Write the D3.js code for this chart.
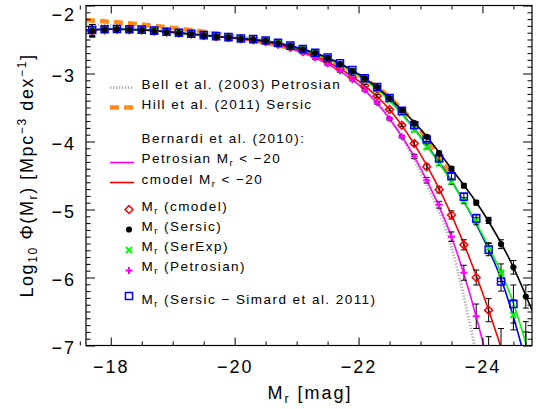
<!DOCTYPE html>
<html>
<head>
<meta charset="utf-8">
<script src="https://cdn.jsdelivr.net/npm/d3@7"></script>
<style>
  body { margin: 0; background: #fff; }
  svg { display: block; font-family: "Liberation Sans", Arial, sans-serif; }
</style>
</head>
<body>
<div id="chart"></div>
<script>
// Magnitude bins of the measured luminosity function
const mags = [-17.7, -17.9, -18.1, -18.3, -18.5, -18.7, -18.9, -19.1, -19.3, -19.5, -19.7, -19.9,
              -20.1, -20.3, -20.5, -20.7, -20.9, -21.1, -21.3, -21.5, -21.7, -21.9, -22.1, -22.3,
              -22.5, -22.7, -22.9, -23.1, -23.3, -23.5, -23.7, -23.9, -24.1, -24.3, -24.5, -24.7];

// log10 phi for each magnitude definition (null = no point)
const sersicPhi = [-2.37, -2.355, -2.35, -2.355, -2.36, -2.375, -2.39, -2.405, -2.42, -2.44, -2.455, -2.47,
                   -2.49, -2.50, -2.52, -2.555, -2.595, -2.645, -2.70, -2.77, -2.86, -2.96, -3.07, -3.20,
                   -3.36, -3.54, -3.73, -3.93, -4.17, -4.40, -4.65, -4.90, -5.16, -5.51, -5.85, -6.28];
const sersicErr = [0.09, 0.03, 0.02, 0.02, 0.02, 0.02, 0.02, 0.02, 0.02, 0.02, 0.02, 0.02,
                   0.02, 0.02, 0.02, 0.02, 0.02, 0.02, 0.02, 0.02, 0.02, 0.02, 0.02, 0.02,
                   0.02, 0.02, 0.025, 0.025, 0.03, 0.03, 0.03, 0.035, 0.045, 0.065, 0.10, 0.17];

const simardPhi = [-2.36, -2.35, -2.345, -2.35, -2.355, -2.37, -2.385, -2.40, -2.415, -2.435, -2.45, -2.465,
                   -2.485, -2.495, -2.515, -2.55, -2.59, -2.64, -2.695, -2.765, -2.85, -2.95, -3.07, -3.20,
                   -3.36, -3.55, -3.76, -3.97, -4.25, -4.51, -4.81, -5.13, -5.59, -6.06, -6.39, -7.25];
const simardErr = [0.08, 0.03, 0.02, 0.02, 0.02, 0.02, 0.02, 0.02, 0.02, 0.02, 0.02, 0.02,
                   0.02, 0.02, 0.02, 0.02, 0.02, 0.02, 0.02, 0.02, 0.02, 0.02, 0.02, 0.02,
                   0.02, 0.02, 0.03, 0.03, 0.035, 0.04, 0.045, 0.06, 0.09, 0.14, 0.28, 0.45];

const serexpPhi = [-2.37, -2.355, -2.35, -2.355, -2.36, -2.375, -2.39, -2.405, -2.42, -2.44, -2.455, -2.47,
                   -2.49, -2.50, -2.52, -2.555, -2.595, -2.645, -2.70, -2.775, -2.87, -2.97, -3.09, -3.23,
                   -3.39, -3.585, -3.83, -4.08, -4.32, -4.59, -4.87, -5.17, -5.57, -5.93, -6.55, -7.10];
const serexpErr = [0.09, 0.03, 0.02, 0.02, 0.02, 0.02, 0.02, 0.02, 0.02, 0.02, 0.02, 0.02,
                   0.02, 0.02, 0.02, 0.02, 0.02, 0.02, 0.02, 0.02, 0.02, 0.02, 0.02, 0.02,
                   0.02, 0.02, 0.025, 0.03, 0.035, 0.04, 0.045, 0.055, 0.08, 0.13, 0.22, 0.45];

const cmodelPhi = [-2.37, -2.355, -2.35, -2.355, -2.36, -2.375, -2.39, -2.405, -2.42, -2.44, -2.455, -2.47,
                   -2.49, -2.505, -2.53, -2.565, -2.615, -2.675, -2.745, -2.83, -2.93, -3.05, -3.18, -3.33,
                   -3.53, -3.76, -4.03, -4.37, -4.71, -5.08, -5.52, -6.00, -6.48, -7.20, null, null];
const cmodelErr = [0.09, 0.03, 0.02, 0.02, 0.02, 0.02, 0.02, 0.02, 0.02, 0.02, 0.02, 0.02,
                   0.02, 0.02, 0.02, 0.02, 0.02, 0.02, 0.02, 0.02, 0.02, 0.02, 0.02, 0.02,
                   0.02, 0.02, 0.03, 0.035, 0.045, 0.06, 0.075, 0.11, 0.17, 0.45, null, null];

const petroPhi = [-2.37, -2.355, -2.35, -2.355, -2.36, -2.375, -2.39, -2.405, -2.42, -2.44, -2.455, -2.47,
                  -2.495, -2.51, -2.54, -2.58, -2.63, -2.69, -2.77, -2.86, -2.96, -3.09, -3.24, -3.43,
                  -3.665, -3.93, -4.22, -4.57, -4.93, -5.40, -5.93, -6.57, -7.25, null, null, null];
const petroErr = [0.09, 0.03, 0.02, 0.02, 0.02, 0.02, 0.02, 0.02, 0.02, 0.02, 0.02, 0.02,
                  0.02, 0.02, 0.02, 0.02, 0.02, 0.02, 0.02, 0.02, 0.02, 0.02, 0.02, 0.02,
                  0.02, 0.02, 0.03, 0.04, 0.05, 0.07, 0.11, 0.18, 0.38, null, null, null];

// Fitted curves, [M_r, log10 phi]
const sersicFit = [[-17.6, -2.37], [-18.0, -2.35], [-18.5, -2.36], [-19.0, -2.395], [-19.5, -2.44],
                   [-20.0, -2.48], [-20.5, -2.525], [-21.0, -2.62], [-21.5, -2.77], [-22.0, -3.01],
                   [-22.5, -3.36], [-23.0, -3.82], [-23.5, -4.40], [-24.0, -5.03], [-24.5, -5.85], [-24.8, -6.48]];
const serexpFit = [[-17.6, -2.37], [-18.0, -2.35], [-18.5, -2.36], [-19.0, -2.395], [-19.5, -2.44],
                   [-20.0, -2.48], [-20.5, -2.525], [-21.0, -2.625], [-21.5, -2.78], [-22.0, -3.03],
                   [-22.5, -3.40], [-23.0, -3.94], [-23.5, -4.59], [-24.0, -5.37], [-24.5, -6.38],
                   [-24.71, -7.0], [-24.8, -7.3]];
const simardFit = [[-17.6, -2.36], [-18.0, -2.345], [-18.5, -2.355], [-19.0, -2.39], [-19.5, -2.435],
                   [-20.0, -2.475], [-20.5, -2.52], [-21.0, -2.615], [-21.5, -2.77], [-22.0, -3.02],
                   [-22.5, -3.39], [-23.0, -3.93], [-23.5, -4.58], [-24.0, -5.40], [-24.3, -6.02],
                   [-24.63, -7.0], [-24.8, -7.6]];
const cmodelFit = [[-20.0, -2.48], [-20.5, -2.535], [-21.0, -2.645], [-21.5, -2.83], [-22.0, -3.11],
                   [-22.5, -3.53], [-23.0, -4.19], [-23.5, -5.08], [-24.0, -6.22], [-24.29, -7.0], [-24.5, -7.6]];
const petroFit = [[-20.0, -2.48], [-20.5, -2.54], [-21.0, -2.66], [-21.5, -2.86], [-22.0, -3.165],
                  [-22.5, -3.665], [-23.0, -4.39], [-23.5, -5.40], [-24.02, -7.0], [-24.2, -7.7]];
const bellFit = [[-17.6, -2.28], [-18.0, -2.295], [-18.5, -2.315], [-19.0, -2.345], [-19.5, -2.385],
                 [-20.0, -2.44], [-20.5, -2.515], [-21.0, -2.63], [-21.5, -2.81], [-22.0, -3.12],
                 [-22.5, -3.65], [-23.0, -4.45], [-23.5, -5.55], [-23.87, -7.0], [-24.0, -7.6]];
const hillFit = [[-17.6, -2.215], [-18.0, -2.24], [-18.5, -2.28], [-19.0, -2.33], [-19.5, -2.385],
                 [-20.0, -2.465], [-20.5, -2.55], [-21.0, -2.645], [-21.5, -2.79], [-22.0, -3.02],
                 [-22.5, -3.35], [-23.0, -3.84], [-23.5, -4.50]];

// Axis ticks
const xMajorTicks = [-18, -20, -22, -24];
const yMajorTicks = [-7, -6, -5, -4, -3, -2];

const W = 536, H = 409;
const plot = { left: 86, right: 532, top: 5.5, bottom: 345.5 };

const svg = d3.select("#chart").append("svg")
    .attr("width", W)
    .attr("height", H);

const x = d3.scaleLinear().domain([-17.6, -24.8]).range([plot.left, plot.right]);
const y = d3.scaleLinear().domain([-7, -2]).range([plot.bottom, plot.top]);

svg.append("clipPath").attr("id", "clip")
  .append("rect")
    .attr("x", plot.left).attr("y", plot.top)
    .attr("width", plot.right - plot.left).attr("height", plot.bottom - plot.top);

const g = svg.append("g").attr("clip-path", "url(#clip)");

const line = d3.line()
    .x(d => x(d[0]))
    .y(d => y(d[1]))
    .curve(d3.curveMonotoneX);

function drawFit(data, color, width, dash) {
  g.append("path")
      .datum(data)
      .attr("d", line)
      .attr("fill", "none")
      .attr("stroke", color)
      .attr("stroke-width", width)
      .attr("stroke-dasharray", dash || null);
}

drawFit(bellFit, "#b4b4b4", 3, "1.3,1.7");
drawFit(hillFit, "#ff8c1a", 4.5, "9,5");
drawFit(petroFit, "#ff00ff", 1.6);
drawFit(cmodelFit, "#ff0000", 1.6);
drawFit(simardFit, "#0000ff", 1.6);
drawFit(serexpFit, "#00ff00", 1.6);
drawFit(sersicFit, "#000000", 1.6);

// points + error bars
const series = [
  { phi: cmodelPhi, err: cmodelErr, symbol: d3.symbolDiamond2, size: 40, fill: "none", stroke: "#ff0000", sw: 1.5 },
  { phi: petroPhi, err: petroErr, symbol: d3.symbolPlus, size: 18, fill: "none", stroke: "#ff00ff", sw: 2 },
  { phi: serexpPhi, err: serexpErr, symbol: d3.symbolX, size: 26, fill: "none", stroke: "#00ff00", sw: 2 },
  { phi: simardPhi, err: simardErr, symbol: d3.symbolSquare2, size: 64, fill: "none", stroke: "#0000ff", sw: 1.5 },
  { phi: sersicPhi, err: sersicErr, symbol: d3.symbolCircle, size: 30, fill: "#000", stroke: "none", sw: 0 }
];

const toPoints = s => mags.map((m, i) => ({ m: m, v: s.phi[i], e: s.err[i] })).filter(d => d.v !== null);

series.forEach(s => {
  const pts = toPoints(s);
  const eb = g.append("g").attr("stroke", "#000").attr("stroke-width", 1);
  eb.selectAll("line.bar").data(pts).enter().append("line")
      .attr("x1", d => x(d.m)).attr("x2", d => x(d.m))
      .attr("y1", d => y(d.v - d.e)).attr("y2", d => y(d.v + d.e));
  eb.selectAll("line.capTop").data(pts).enter().append("line")
      .attr("x1", d => x(d.m) - 3).attr("x2", d => x(d.m) + 3)
      .attr("y1", d => y(d.v + d.e)).attr("y2", d => y(d.v + d.e));
  eb.selectAll("line.capBot").data(pts).enter().append("line")
      .attr("x1", d => x(d.m) - 3).attr("x2", d => x(d.m) + 3)
      .attr("y1", d => y(d.v - d.e)).attr("y2", d => y(d.v - d.e));
});

series.forEach(s => {
  g.append("g").selectAll("path").data(toPoints(s)).enter().append("path")
      .attr("transform", d => "translate(" + x(d.m) + "," + y(d.v) + ")")
      .attr("d", d3.symbol().type(s.symbol).size(s.size))
      .attr("fill", s.fill)
      .attr("stroke", s.stroke)
      .attr("stroke-width", s.sw);
});

// axes: ticks point inward on all four sides
const xMinor = d3.range(-17.5, -24.81, -0.5).filter(v => !xMajorTicks.includes(v));
const yMinor = d3.range(-6.9, -2.0, 0.1).map(v => +v.toFixed(1)).filter(v => !yMajorTicks.includes(v));
const fmt = v => "\u2212" + Math.abs(v);

function styleAxis(sel) {
  sel.select(".domain").remove();
  sel.selectAll("line").attr("stroke", "#000").attr("stroke-width", 1);
  sel.selectAll("text").attr("fill", "#000").style("font-size", "18px").style("letter-spacing", "2px");
}

svg.append("g").attr("transform", "translate(0," + plot.bottom + ")")
    .call(d3.axisBottom(x).tickValues(xMajorTicks).tickSize(-8).tickPadding(15).tickFormat(fmt))
    .call(styleAxis);
svg.append("g").attr("transform", "translate(0," + plot.bottom + ")")
    .call(d3.axisBottom(x).tickValues(xMinor).tickSize(-4).tickFormat(""))
    .call(styleAxis);
svg.append("g").attr("transform", "translate(0," + plot.top + ")")
    .call(d3.axisTop(x).tickValues(xMajorTicks).tickSize(-8).tickFormat(""))
    .call(styleAxis);
svg.append("g").attr("transform", "translate(0," + plot.top + ")")
    .call(d3.axisTop(x).tickValues(xMinor).tickSize(-4).tickFormat(""))
    .call(styleAxis);

const yAxisG = svg.append("g").attr("transform", "translate(" + plot.left + ",0)")
    .call(d3.axisLeft(y).tickValues(yMajorTicks).tickSize(-9).tickPadding(10).tickFormat(fmt))
    .call(styleAxis);
yAxisG.selectAll("text").attr("dy", d => d === -2 ? "0.82em" : "0.46em");
svg.append("g").attr("transform", "translate(" + plot.left + ",0)")
    .call(d3.axisLeft(y).tickValues(yMinor).tickSize(-4.5).tickFormat(""))
    .call(styleAxis);
svg.append("g").attr("transform", "translate(" + plot.right + ",0)")
    .call(d3.axisRight(y).tickValues(yMajorTicks).tickSize(-9).tickFormat(""))
    .call(styleAxis);
svg.append("g").attr("transform", "translate(" + plot.right + ",0)")
    .call(d3.axisRight(y).tickValues(yMinor).tickSize(-4.5).tickFormat(""))
    .call(styleAxis);

svg.append("rect")
    .attr("x", plot.left).attr("y", plot.top)
    .attr("width", plot.right - plot.left).attr("height", plot.bottom - plot.top)
    .attr("fill", "none").attr("stroke", "#000").attr("stroke-width", 1.2);

// axis titles
const xt = svg.append("text")
    .attr("x", 310).attr("y", 399)
    .attr("text-anchor", "middle")
    .style("font-size", "18px").style("letter-spacing", "2px");
xt.append("tspan").text("M");
xt.append("tspan").attr("dy", 4).style("font-size", "12px").text("r");
xt.append("tspan").attr("dy", -4).text(" [mag]");

const yt = svg.append("text")
    .attr("transform", "translate(33," + ((plot.top + plot.bottom) / 2) + ") rotate(-90)")
    .attr("text-anchor", "middle")
    .style("font-size", "18px").style("letter-spacing", "1.6px");
yt.append("tspan").text("Log");
yt.append("tspan").attr("dy", 4).style("font-size", "12px").text("10");
yt.append("tspan").attr("dy", -4).text(" \u03A6(M");
yt.append("tspan").attr("dy", 4).style("font-size", "12px").text("r");
yt.append("tspan").attr("dy", -4).text(")  [Mpc");
yt.append("tspan").attr("dy", -7).style("font-size", "12px").text("\u22123");
yt.append("tspan").attr("dy", 7).text(" dex");
yt.append("tspan").attr("dy", -7).style("font-size", "12px").text("\u22121");
yt.append("tspan").attr("dy", 7).text("]");

// legend
const leg = svg.append("g").style("font-size", "13.5px").style("letter-spacing", "1.45px");

// parts: plain strings, or ["r"] for a subscript
function legText(yBase, parts) {
  const t = leg.append("text").attr("x", 141.5).attr("y", yBase);
  let lowered = false;
  parts.forEach(p => {
    if (Array.isArray(p)) {
      t.append("tspan").attr("dy", 3).style("font-size", "9.5px").text(p[0]);
      lowered = true;
    } else {
      t.append("tspan").attr("dy", lowered ? -3 : null).text(p);
      lowered = false;
    }
  });
}
function legLine(yPos, color, width, dash) {
  leg.append("line")
      .attr("x1", 110).attr("x2", 134).attr("y1", yPos).attr("y2", yPos)
      .attr("stroke", color).attr("stroke-width", width)
      .attr("stroke-dasharray", dash || null);
}
function legSymbol(yPos, s) {
  leg.append("path")
      .attr("transform", "translate(129," + yPos + ")")
      .attr("d", d3.symbol().type(s.symbol).size(s.size))
      .attr("fill", s.fill).attr("stroke", s.stroke).attr("stroke-width", s.sw);
}

legLine(87.5, "#b4b4b4", 3, "1.3,1.7");
legText(88.5, ["Bell et al. (2003) Petrosian"]);
legLine(107.5, "#ff8c1a", 4.5, "9,5");
legText(108.5, ["Hill et al. (2011) Sersic"]);
legText(143, ["Bernardi et al. (2010):"]);
legLine(162.5, "#ff00ff", 1.6);
legText(163, ["Petrosian M", ["r"], " < \u221220"]);
legLine(182.5, "#ff0000", 1.6);
legText(183.5, ["cmodel M", ["r"], " < \u221220"]);

legSymbol(209.5, series[0]);
legText(211, ["M", ["r"], " (cmodel)"]);
legSymbol(229.5, series[4]);
legText(231, ["M", ["r"], " (Sersic)"]);
legSymbol(250, series[2]);
legText(251, ["M", ["r"], " (SerExp)"]);
legSymbol(270.5, series[1]);
legText(271, ["M", ["r"], " (Petrosian)"]);
legSymbol(296, series[3]);
legText(304, ["M", ["r"], " (Sersic \u2212 Simard et al. 2011)"]);
</script>
</body>
</html>
